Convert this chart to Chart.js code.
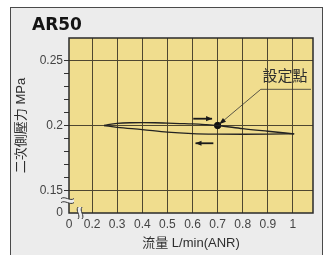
<!DOCTYPE html>
<html><head><meta charset="utf-8">
<script src="https://cdn.jsdelivr.net/npm/chart.js@4/dist/chart.umd.min.js"></script>
<style>html,body{margin:0;padding:0;background:#fff;}canvas{display:block;}</style>
</head><body>
<canvas id="c" width="331" height="255"></canvas>
<script>
const chartTitle = 'AR50';
const xAxisTitle = '流量 L/min(ANR)';
const yAxisTitle = '二次側壓力 MPa';
const setPointLabel = '設定點';

// x axis is broken: "0" sits at the left edge of the plot
const xTickValues = [0.108, 0.2, 0.3, 0.4, 0.5, 0.6, 0.7, 0.8, 0.9, 1.0];
const xTickLabels = ['0', '0.2', '0.3', '0.4', '0.5', '0.6', '0.7', '0.8', '0.9', '1'];
// y axis is broken: "0" sits at the bottom edge of the plot
const yTickValues = [0.133, 0.15, 0.16, 0.17, 0.18, 0.19, 0.2, 0.21, 0.22, 0.23, 0.24, 0.25];
const yTickLabels = ['0', '0.15', '', '', '', '', '0.2', '', '', '', '', '0.25'];
const yGridValues = [0.15, 0.2, 0.25];

// hysteresis loop
const upperFlow = [0.248, 0.27, 0.3, 0.35, 0.4, 0.45, 0.5, 0.55, 0.6, 0.65, 0.7, 0.8, 0.9, 1.005];
const upperPressure = [0.2, 0.2009, 0.2016, 0.2021, 0.2022, 0.2021, 0.2018, 0.2015, 0.2012, 0.2007, 0.2, 0.1976, 0.1956, 0.1936];
const lowerFlow = [0.248, 0.3, 0.4, 0.5, 0.6, 0.7, 0.8, 0.9, 1.005];
const lowerPressure = [0.2, 0.1986, 0.1969, 0.1949, 0.1938, 0.1934, 0.1933, 0.1934, 0.1936];

// set point and its leader
const setPointFlow = [0.7];
const setPointPressure = [0.2];
const leaderFlow = [0.872, 0.872, 1.072];
const leaderPressure = [0.2277, 0.2277, 0.2277];
const leaderTipFlow = 0.706;
const leaderTipPressure = 0.2009;
const labelFlow = 0.968;
const labelPressure = 0.2385;

// direction arrows
const arrowRightFlow = [0.603, 0.678];
const arrowRightPressure = [0.2052, 0.2052];
const arrowLeftFlow = [0.683, 0.612];
const arrowLeftPressure = [0.1864, 0.1864];

const pts = (xs, ys) => xs.map((x, i) => ({x, y: ys[i]}));

const LATIN = "'Liberation Sans', 'Noto Sans CJK TC', sans-serif";

function arrowHead(ctx, x0, y0, x1, y1, len, half) {
  const a = Math.atan2(y1 - y0, x1 - x0);
  ctx.beginPath();
  ctx.moveTo(x1, y1);
  ctx.lineTo(x1 - len * Math.cos(a) + half * Math.sin(a), y1 - len * Math.sin(a) - half * Math.cos(a));
  ctx.lineTo(x1 - len * Math.cos(a) - half * Math.sin(a), y1 - len * Math.sin(a) + half * Math.cos(a));
  ctx.closePath();
  ctx.fill();
}

const decor = {
  id: 'decor',
  beforeDraw(chart) {
    const ctx = chart.ctx, a = chart.chartArea;
    ctx.save();
    ctx.fillStyle = '#ffffff';
    ctx.fillRect(0, 0, chart.width, chart.height);
    ctx.fillStyle = '#ececec';
    ctx.strokeStyle = '#4a4a4a';
    ctx.lineWidth = 1;
    ctx.fillRect(10.5, 7.5, 312, 260);
    ctx.strokeRect(10.5, 7.5, 312, 260);
    ctx.fillStyle = '#f0dd8e';
    ctx.fillRect(a.left, a.top, a.right - a.left, a.bottom - a.top);
    ctx.fillStyle = '#141414';
    ctx.font = "bold 17px 'DejaVu Sans'";
    ctx.textBaseline = 'alphabetic';
    ctx.fillText(chartTitle, 32, 29.5);
    ctx.restore();
  },
  afterDatasetsDraw(chart) {
    const ctx = chart.ctx, a = chart.chartArea;
    const xs = chart.scales.x, ys = chart.scales.y;
    ctx.save();
    // plot frame
    ctx.strokeStyle = '#2a2a2a';
    ctx.lineWidth = 1.5;
    ctx.strokeRect(a.left, a.top, a.right - a.left, a.bottom - a.top);
    // arrow heads
    ctx.fillStyle = '#1a1a1a';
    const flowArrows = [[arrowRightFlow, arrowRightPressure], [arrowLeftFlow, arrowLeftPressure]];
    flowArrows.forEach(([fx, fy]) => {
      arrowHead(ctx, xs.getPixelForValue(fx[0]), ys.getPixelForValue(fy[0]),
        xs.getPixelForValue(fx[1]), ys.getPixelForValue(fy[1]), 6, 2.6);
    });
    arrowHead(ctx, xs.getPixelForValue(leaderFlow[0]), ys.getPixelForValue(leaderPressure[0]),
      xs.getPixelForValue(leaderTipFlow), ys.getPixelForValue(leaderTipPressure), 7, 2.4);
    // label
    ctx.fillStyle = '#2e2e2e';
    ctx.font = "15px 'Noto Sans CJK TC'";
    ctx.textAlign = 'center';
    ctx.textBaseline = 'middle';
    ctx.fillText(setPointLabel, xs.getPixelForValue(labelFlow), ys.getPixelForValue(labelPressure));
    // axis breaks
    ctx.strokeStyle = '#333';
    ctx.lineWidth = 1;
    const by = ys.getPixelForValue(0.1425);
    ctx.fillStyle = '#ececec';
    ctx.beginPath();
    ctx.moveTo(a.left - 8, by - 2);
    ctx.bezierCurveTo(a.left - 4, by - 5, a.left + 1, by + 1, a.left + 5, by - 2);
    ctx.lineTo(a.left + 5, by + 2);
    ctx.bezierCurveTo(a.left + 1, by + 5, a.left - 4, by - 1, a.left - 8, by + 2);
    ctx.closePath();
    ctx.fill();
    ctx.beginPath();
    ctx.moveTo(a.left - 8, by - 2);
    ctx.bezierCurveTo(a.left - 4, by - 5, a.left + 1, by + 1, a.left + 5, by - 2);
    ctx.moveTo(a.left - 8, by + 2);
    ctx.bezierCurveTo(a.left - 4, by - 1, a.left + 1, by + 5, a.left + 5, by + 2);
    ctx.stroke();
    const bx = xs.getPixelForValue(0.152);
    ctx.beginPath();
    ctx.moveTo(bx - 2, a.bottom - 6);
    ctx.bezierCurveTo(bx - 5, a.bottom - 2, bx + 1, a.bottom + 2, bx - 2, a.bottom + 6);
    ctx.lineTo(bx + 2, a.bottom + 6);
    ctx.bezierCurveTo(bx + 5, a.bottom + 2, bx - 1, a.bottom - 2, bx + 2, a.bottom - 6);
    ctx.closePath();
    ctx.fill();
    ctx.beginPath();
    ctx.moveTo(bx - 2, a.bottom - 6);
    ctx.bezierCurveTo(bx - 5, a.bottom - 2, bx + 1, a.bottom + 2, bx - 2, a.bottom + 6);
    ctx.moveTo(bx + 2, a.bottom - 6);
    ctx.bezierCurveTo(bx - 1, a.bottom - 2, bx + 5, a.bottom + 2, bx + 2, a.bottom + 6);
    ctx.stroke();
    ctx.restore();
  }
};

const lineDs = (data, width, color, tension) => ({
  data, showLine: true, borderColor: color, borderWidth: width, pointRadius: 0,
  tension: tension, cubicInterpolationMode: tension ? 'monotone' : 'default', fill: false
});

new Chart(document.getElementById('c'), {
  type: 'scatter',
  data: {
    datasets: [
      lineDs(pts(upperFlow, upperPressure), 1.3, '#222', 0.4),
      lineDs(pts(lowerFlow, lowerPressure), 1.3, '#222', 0.4),
      lineDs(pts([leaderTipFlow].concat(leaderFlow), [leaderTipPressure].concat(leaderPressure)), 0.8, '#333', 0),
      lineDs(pts(arrowRightFlow, arrowRightPressure), 1.8, '#1a1a1a', 0),
      lineDs(pts(arrowLeftFlow, arrowLeftPressure), 1.8, '#1a1a1a', 0),
      {data: pts(setPointFlow, setPointPressure), pointRadius: 3.2, pointBackgroundColor: '#111', pointBorderColor: '#111', showLine: false}
    ]
  },
  options: {
    responsive: false,
    animation: false,
    devicePixelRatio: 1,
    layout: {padding: {top: 38, right: 18, left: 0, bottom: 0}},
    plugins: {legend: {display: false}, tooltip: {enabled: false}, title: {display: false}},
    scales: {
      x: {
        type: 'linear', min: 0.108, max: 1.08,
        afterBuildTicks: s => { s.ticks = xTickValues.map(v => ({value: v})); },
        afterFit: s => { s.height = 42; },
        ticks: {
          autoSkip: false, maxRotation: 0, padding: 4, color: '#444',
          font: {family: LATIN, size: 12},
          callback: (v, i) => xTickLabels[i]
        },
        grid: {
          drawTicks: false, lineWidth: 1,
          color: ctx => (ctx.tick && ctx.tick.value > 0.15) ? '#4e4630' : 'rgba(0,0,0,0)'
        },
        border: {display: false},
        title: {display: true, text: xAxisTitle, color: '#2e2e2e', font: {family: LATIN, size: 13}, padding: {top: 2, bottom: 4}}
      },
      y: {
        type: 'linear', min: 0.133, max: 0.267,
        afterBuildTicks: s => { s.ticks = yTickValues.map(v => ({value: v})); },
        afterFit: s => { s.width = 69; },
        ticks: {
          autoSkip: false, padding: 1, color: '#444',
          font: {family: LATIN, size: 12},
          callback: (v, i) => yTickLabels[i]
        },
        grid: {
          tickLength: 5, lineWidth: 1,
          color: ctx => (ctx.tick && yGridValues.some(g => Math.abs(g - ctx.tick.value) < 1e-6)) ? '#4e4630' : 'rgba(0,0,0,0)',
          tickColor: ctx => (ctx.tick && ctx.tick.value > 0.14) ? '#333' : 'rgba(0,0,0,0)'
        },
        border: {display: false},
        title: {display: true, text: yAxisTitle, color: '#2e2e2e', font: {family: LATIN, size: 13}, padding: {top: 14, bottom: 4}}
      }
    }
  },
  plugins: [decor]
});
</script>
</body></html>
